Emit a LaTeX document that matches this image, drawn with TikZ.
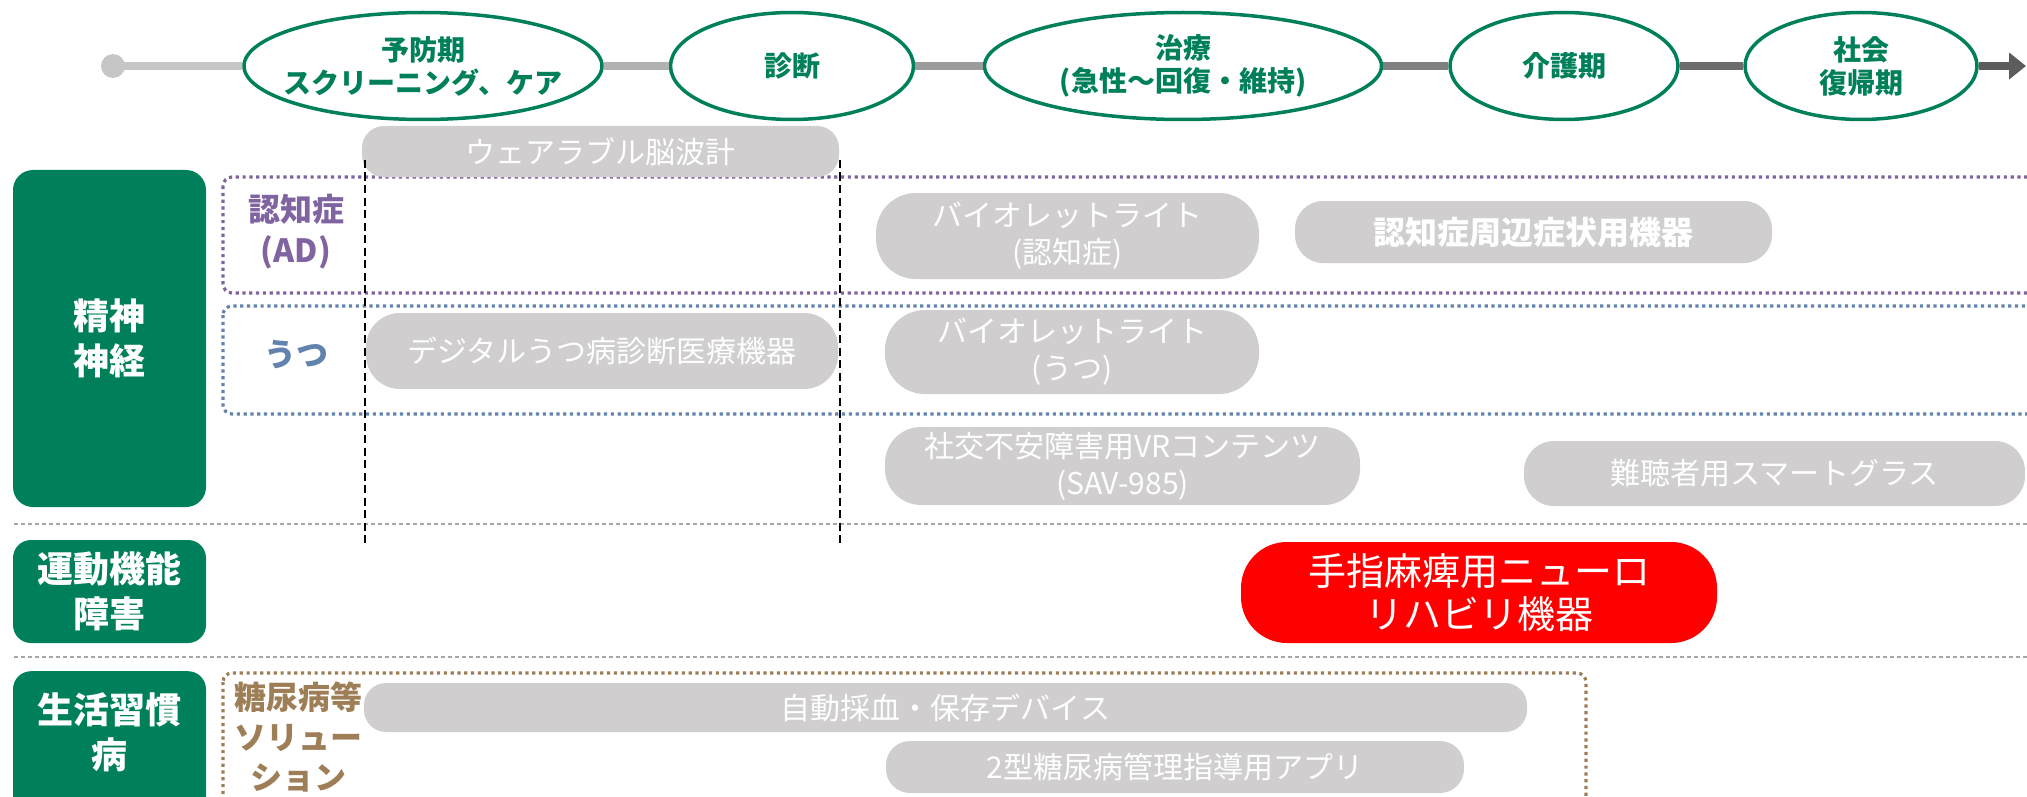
\documentclass[tikz,border=0pt]{standalone}
\usepackage{fontspec}
\setmainfont{Noto Sans CJK JP}
\usetikzlibrary{shapes.geometric,arrows.meta}
\definecolor{grn}{HTML}{00805A}
\definecolor{pillgray}{HTML}{D0CECE}
\definecolor{adpurple}{HTML}{8064A2}
\definecolor{utsublue}{HTML}{6283AE}
\definecolor{dmbrown}{HTML}{9E7E56}
\definecolor{sepgray}{HTML}{A6A6A6}
\definecolor{nred}{HTML}{FF0000}
\definecolor{tla}{HTML}{C6C6C6}
\definecolor{tlb}{HTML}{B2B2B2}
\definecolor{tlc}{HTML}{9C9C9C}
\definecolor{tld}{HTML}{808080}
\definecolor{tle}{HTML}{6C6C6C}
\definecolor{tlf}{HTML}{5C5C5C}
\begin{document}
\begin{tikzpicture}[x=1pt,y=-1pt,
  phase/.style={ellipse, draw=grn, line width=3.5pt, fill=white, inner sep=0pt, minimum height=107pt},
  phasetext/.style={text=grn, font=\fontsize{28}{33}\selectfont\bfseries, align=center, inner sep=0pt},
  catbox/.style={fill=grn, rounded corners=18pt, inner sep=0pt, minimum width=193pt, text=white, font=\fontsize{36}{45}\selectfont\bfseries, align=center},
  cattext/.style={text=white, font=\fontsize{36}{45}\selectfont\bfseries, align=center, inner sep=0pt},
  pill/.style={fill=pillgray, text=white, font=\fontsize{30}{37}\selectfont, align=center, inner sep=0pt},
  redpill/.style={fill=nred, text=white, font=\fontsize{38}{43}\selectfont, align=center, inner sep=0pt, rounded corners=46pt},
  sublabel/.style={font=\fontsize{32}{41}\selectfont\bfseries, align=center, inner sep=0pt},
  tline/.style={line width=8pt},
  region/.style={line width=3.2pt, dash pattern=on 3.2pt off 3.6pt, rounded corners=9pt},
  sepline/.style={draw=sepgray, line width=1.5pt, dash pattern=on 4pt off 3pt},
  vguide/.style={draw=black, line width=2pt, dash pattern=on 8pt off 4.5pt},
]
\useasboundingbox (0,0) rectangle (2027,797);
\clip (0,0) rectangle (2027,797);

% region frames
\draw[region, draw=adpurple] (223,177) rectangle (2060,293);
\draw[region, draw=utsublue] (223,306) rectangle (2060,414);
\draw[region, draw=dmbrown] (223,673) rectangle (1586,840);

% separators
\draw[sepline] (14,524) -- (2027,524);
\draw[sepline] (14,657) -- (2027,657);

% pills
\node[pill, minimum width=477pt, minimum height=51pt, rounded corners=22pt] (p1) at (600.5,151.5) {ウェアラブル脳波計};
\node[pill, minimum width=383pt, minimum height=86pt, rounded corners=40pt] (p2) at (1067.5,236) {バイオレットライト\\(認知症)};
\node[pill, minimum width=477pt, minimum height=62pt, rounded corners=28pt, font=\fontsize{32}{37}\selectfont\bfseries] (p3) at (1533.5,232) {認知症周辺症状用機器};
\node[pill, minimum width=472pt, minimum height=76pt, rounded corners=34pt] (p4) at (602,351) {デジタルうつ病診断医療機器};
\node[pill, minimum width=374pt, minimum height=84pt, rounded corners=40pt] (p5) at (1072,352) {バイオレットライト\\(うつ)};
\node[pill, minimum width=475pt, minimum height=78pt, rounded corners=36pt] (p6) at (1122.5,466) {社交不安障害用VRコンテンツ\\(SAV-985)};
\node[pill, minimum width=501pt, minimum height=65pt, rounded corners=30pt] (p7) at (1774.5,473.5) {難聴者用スマートグラス};
\node[pill, minimum width=1163pt, minimum height=49pt, rounded corners=22pt] (p8) at (945.5,707.5) {自動採血・保存デバイス};
\node[pill, minimum width=578pt, minimum height=52pt, rounded corners=24pt] (p9) at (1175,767) {2型糖尿病管理指導用アプリ};
\node[redpill, minimum width=476pt, minimum height=101pt] (rp) at (1479,592.5) {手指麻痺用ニューロ\\リハビリ機器};

% category boxes
\node[catbox, minimum height=337pt, rounded corners=20pt] (g1) at (109.5,338.5) {精神\\神経};
\node[catbox, minimum height=103pt] (g2) at (109.5,591.5) {運動機能\\障害};
\node[catbox, minimum height=150pt, anchor=north] (g3) at (109.5,671) {};
\node[cattext] (g3t) at (109.5,732) {生活習慣\\病};

% sub labels
\node[sublabel, text=adpurple] (ad) at (296,232) {認知症\\(AD)};
\node[sublabel, text=utsublue] (ut) at (296,355) {うつ};
\node[sublabel, text=dmbrown, font=\fontsize{32}{40}\selectfont\bfseries] (dm) at (298,737) {糖尿病等\\ソリュー\\ション};

% vertical guides
\draw[vguide] (365,160) -- (365,547);
\draw[vguide] (840,160) -- (840,547);

% timeline
\node[circle, fill=tla, minimum size=24pt, inner sep=0pt] (dot) at (113,66) {};
\node[phase, minimum width=358pt, label={[phasetext]center:{予防期\\スクリーニング、ケア}}] (e1) at (423,66) {};
\node[phase, minimum width=243pt, label={[phasetext]center:{診断}}] (e2) at (792,66) {};
\node[phase, minimum width=397pt, label={[phasetext]center:{治療\\(急性〜回復・維持)}}] (e3) at (1183,66) {};
\node[phase, minimum width=228pt, label={[phasetext]center:{介護期}}] (e4) at (1564,66) {};
\node[phase, minimum width=232pt, label={[phasetext]center:{社会\\復帰期}}] (e5) at (1861,66) {};
\coordinate (tend) at (2026,66);
\draw[tline, draw=tla] (dot.center) -- (e1.west);
\draw[tline, draw=tlb] (e1.east) -- (e2.west);
\draw[tline, draw=tlc] (e2.east) -- (e3.west);
\draw[tline, draw=tld] (e3.east) -- (e4.west);
\draw[tline, draw=tle] (e4.east) -- (e5.west);
\draw[tline, draw=tlf, fill=tlf, -{Triangle[length=17pt,width=26pt]}] (e5.east) -- (tend);
\end{tikzpicture}
\end{document}
